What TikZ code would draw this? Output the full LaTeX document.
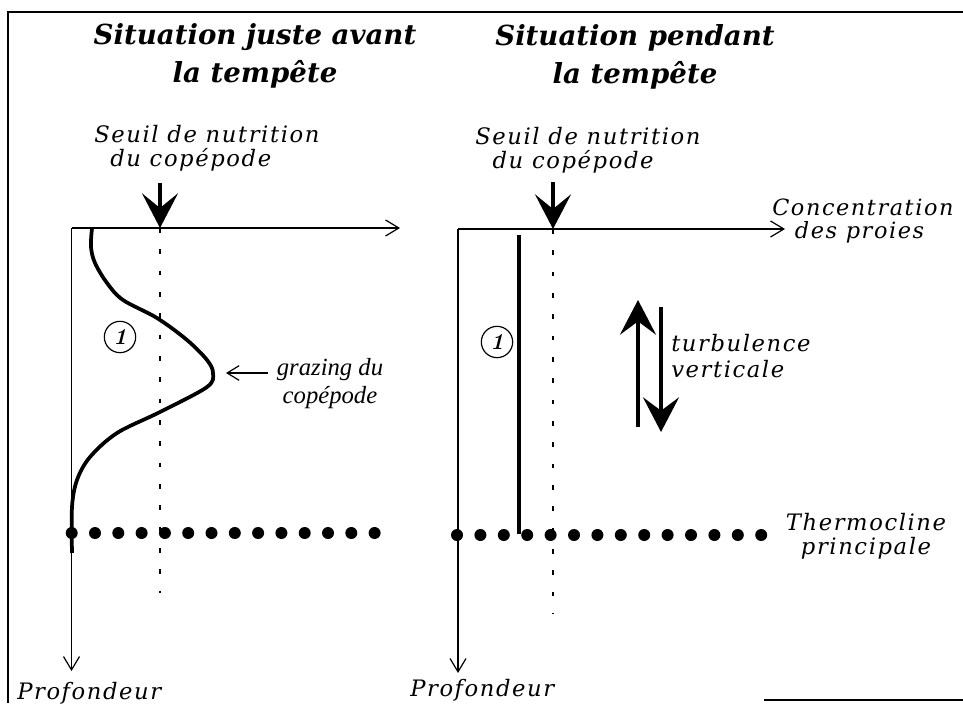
\documentclass[tikz,border=0pt]{standalone}
\usepackage{fontspec}
\newfontfamily\dvs[LetterSpace=7]{DejaVu Serif}
\newfontfamily\dvt{DejaVu Serif}
\newfontfamily\lsf{Liberation Serif}
\usetikzlibrary{arrows.meta}
\begin{document}
\begin{tikzpicture}[x=0.75pt,y=-0.75pt,
  frameline/.style={line width=1.1pt},
  axis/.style={line width=0.8pt,-{Straight Barb[length=10pt,width=12pt,line width=0.9pt]}},
  thr/.style={line width=1.2pt,dash pattern=on 3.5pt off 12.5pt},
  seuil/.style={line width=2.6pt,-{Stealth[length=26pt,width=27pt,inset=11pt]}},
  turb/.style={-{Stealth[length=26pt,width=27pt,inset=10pt]}},
  curve/.style={line width=2.8pt},
  dot/.style={circle,fill,inner sep=0pt,minimum size=9pt},
  lab/.style={inner sep=0pt,align=left,font=\dvs\itshape\fontsize{17}{18}\selectfont},
  ttl/.style={inner sep=0pt,align=center,font=\dvt\bfseries\itshape\fontsize{20.7}{28.5}\selectfont},
  graz/.style={inner sep=0pt,align=center,font=\lsf\itshape\fontsize{18.5}{21}\selectfont},
  circ/.style={circle,draw,line width=0.9pt,minimum size=23.5pt,inner sep=0pt,font=\rmfamily\bfseries\itshape\fontsize{17}{17}\selectfont},
  garrow/.style={line width=0.9pt,-{Straight Barb[length=9pt,width=11pt,line width=0.9pt]}}
]
\useasboundingbox (0,0) rectangle (963,703);
% frame
\coordinate (f1) at (8,703);
\coordinate (f2) at (8,12);
\coordinate (f3) at (963,12);
\coordinate (b1) at (764,700);
\coordinate (b2) at (963,700);
\draw[frameline] (f1) -- (f2) -- (f3);
\draw[frameline] (b1) -- (b2);

% titles
\node[ttl] (t1) at (255,56) {Situation juste avant\\la tempête};
\node[ttl] (t2) at (635,57) {Situation pendant\\la tempête};

% ---------- left panel
\coordinate (O1) at (71.5,228);
\coordinate (X1) at (400,228);
\coordinate (Y1) at (71.5,671);
\draw[axis] (O1) -- (X1);
\draw[axis] (O1) -- (Y1);
\node[lab,anchor=west] (s1) at (94,148) {Seuil de nutrition\\\hspace*{12pt}du copépode};
\coordinate (s1t) at (160,183);
\coordinate (s1b) at (160,228);
\coordinate (d1e) at (160,593);
\draw[thr] (s1b) -- (d1e);
\draw[seuil] (s1t) -- (s1b);
\draw[curve] plot[smooth,tension=0.55] coordinates {(92,228) (91,247) (95,263) (107,283) (123,300) (157,318) (187,340) (207,360) (213,373) (207,387) (160,412) (117,433) (90,457) (77,480) (72,507) (72,553)};
\foreach \k in {0,...,13} \node[dot] (dl\k) at ({71.7+23.3*\k},533) {};
\node[circ] (c1) at (120,337) {1};
\node[graz] (g) at (330,384) {grazing du\\copépode};
\coordinate (gs) at (268,373);
\coordinate (ge) at (226,373);
\draw[garrow] (gs) -- (ge);
\node[lab,anchor=west] (p1) at (17,693) {Profondeur};

% ---------- right panel
\coordinate (O2) at (458,229);
\coordinate (X2) at (785,229);
\coordinate (Y2) at (458,673);
\draw[axis] (O2) -- (X2);
\draw[axis] (O2) -- (Y2);
\node[lab,anchor=west] (s2) at (475,150) {Seuil de nutrition\\\hspace*{13pt}du copépode};
\coordinate (s2t) at (553,182);
\coordinate (s2b) at (553,229);
\coordinate (d2e) at (553,614);
\draw[thr] (s2b) -- (d2e);
\draw[seuil] (s2t) -- (s2b);
\node[lab,anchor=west,font=\dvs\itshape\fontsize{16.8}{17.5}\selectfont] (cp) at (772,221) {Concentration\\\hspace*{17pt}des proies};
\coordinate (v1) at (519,235);
\coordinate (v2) at (519,534);
\draw[curve] (v1) -- (v2);
\foreach \k in {0,...,13} \node[dot] (dr\k) at ({457+23.4*\k},535) {};
\node[circ] (c2) at (497,342) {1};
\coordinate (u1) at (638,427);
\coordinate (u2) at (638,300);
\coordinate (w1) at (661,307);
\coordinate (w2) at (661,432);
\draw[turb,line width=3.3pt] (u1) -- (u2);
\draw[turb,line width=2.5pt] (w1) -- (w2);
\node[lab,anchor=west,font=\dvs\itshape\fontsize{17}{19}\selectfont] (tv) at (671,356) {turbulence\\verticale};
\node[lab,align=center,font=\dvs\itshape\fontsize{17}{18}\selectfont] (th) at (866,536) {Thermocline\\principale};
\node[lab,anchor=west] (p2) at (410,690) {Profondeur};
\end{tikzpicture}
\end{document}
